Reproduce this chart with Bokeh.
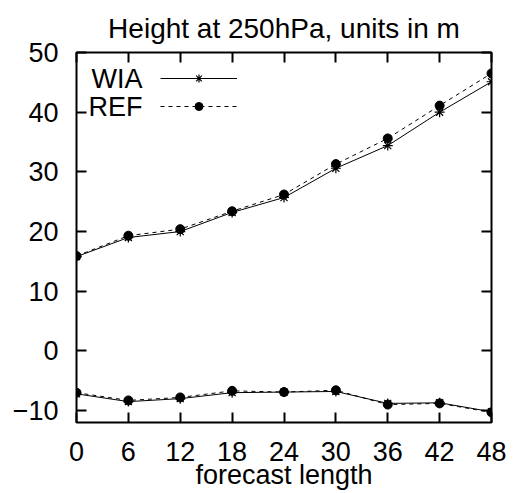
from bokeh.plotting import figure
from bokeh.models import (LinearAxis, FixedTicker, Range1d, Legend, LegendItem,
                          Label, BoxAnnotation)
from bokeh.embed import file_html
from bokeh.resources import INLINE

# ---- data ----
lead = [0, 6, 12, 18, 24, 30, 36, 42, 48]
wia_upper = [15.8, 19.0, 20.0, 23.2, 25.7, 30.6, 34.4, 40.0, 45.1]
ref_upper = [15.9, 19.3, 20.4, 23.4, 26.2, 31.3, 35.6, 41.1, 46.5]
wia_lower = [-7.2, -8.5, -8.0, -7.0, -6.9, -6.8, -8.8, -8.7, -10.2]
ref_lower = [-7.0, -8.3, -7.8, -6.7, -6.9, -6.6, -9.0, -8.8, -10.3]

x_ticks = [0, 6, 12, 18, 24, 30, 36, 42, 48]
y_ticks = [-10, 0, 10, 20, 30, 40, 50]
y_tick_labels = ["\u221210", "0", "10", "20", "30", "40", "50"]
series_names = ["WIA", "REF"]
title_text = "Height at 250hPa, units in m"
x_label = "forecast length"

FONT = "Liberation Sans"
FS = "27px"

p = figure(width=508, height=493, output_backend="svg", toolbar_location=None,
           x_range=Range1d(0, 48), y_range=Range1d(-12, 50),
           x_axis_type=None, y_axis_type=None,
           min_border_left=76, min_border_right=17,
           min_border_top=52, min_border_bottom=71)
p.background_fill_color = "white"
p.border_fill_color = "white"
p.outline_line_color = "black"
p.outline_line_width = 2

p.title.text = title_text
p.title.align = "center"
p.title.vertical_align = "top"
p.title.standoff = 14
p.title.text_font = FONT
p.title.text_font_size = "28px"
p.title.text_font_style = "normal"
p.title.text_color = "black"

def style_axis(ax, show_labels):
    ax.axis_line_color = None
    ax.major_tick_in = 10
    ax.major_tick_out = 0
    ax.major_tick_line_width = 2
    ax.major_tick_line_color = "black"
    ax.minor_tick_line_color = None
    ax.major_label_text_font = FONT
    ax.major_label_text_color = "black"
    ax.major_label_text_font_size = FS
    if not show_labels:
        ax.major_label_overrides = {t: "" for t in ax.ticker.ticks}
        ax.major_label_standoff = 0

xb = LinearAxis(ticker=FixedTicker(ticks=x_ticks))
style_axis(xb, True)
xb.major_label_standoff = 19
xb.axis_label = x_label
xb.axis_label_text_font = FONT
xb.axis_label_text_font_size = FS
xb.axis_label_text_font_style = "normal"
xb.axis_label_text_color = "black"
xb.axis_label_standoff = -4
p.add_layout(xb, "below")

yl = LinearAxis(ticker=FixedTicker(ticks=y_ticks))
style_axis(yl, True)
yl.major_label_standoff = 18
yl.major_label_overrides = {t: s for t, s in zip(y_ticks, y_tick_labels)}
p.add_layout(yl, "left")

xt = LinearAxis(ticker=FixedTicker(ticks=x_ticks))
style_axis(xt, False)
p.add_layout(xt, "above")

yr = LinearAxis(ticker=FixedTicker(ticks=y_ticks))
style_axis(yr, False)
p.add_layout(yr, "right")

p.xgrid.ticker = FixedTicker(ticks=x_ticks)
p.ygrid.ticker = FixedTicker(ticks=y_ticks)
for g in (p.xgrid, p.ygrid):
    g.grid_line_color = "black"
    g.grid_line_dash = "2 3"
    g.grid_line_width = 1
    g.grid_line_alpha = 0.85

# ---- series ----
w_l1 = p.line(lead, wia_upper, line_color="black", line_width=1)
w_s1 = p.scatter(lead, wia_upper, marker="asterisk", size=10, line_color="black", line_width=1.2)
p.line(lead, wia_lower, line_color="black", line_width=1)
p.scatter(lead, wia_lower, marker="asterisk", size=10, line_color="black", line_width=1.2)

r_l1 = p.line(lead, ref_upper, line_color="black", line_width=1, line_dash="4 4")
r_s1 = p.scatter(lead, ref_upper, marker="circle", size=9, fill_color="black", line_color="black")
p.line(lead, ref_lower, line_color="black", line_width=1, line_dash="4 4")
p.scatter(lead, ref_lower, marker="circle", size=9, fill_color="black", line_color="black")

# blank the grid behind the key, as the original does
p.add_layout(BoxAnnotation(left=1.6, right=20.0, top=47.7, bottom=38.3,
                           fill_color="white", fill_alpha=1.0, line_color=None))

legend = Legend(items=[LegendItem(label=" ", renderers=[w_l1, w_s1]),
                       LegendItem(label=" ", renderers=[r_l1, r_s1])],
                location=(84, 306), orientation="vertical",
                glyph_width=77, glyph_height=20, label_height=20,
                label_width=1, label_standoff=0, spacing=8,
                padding=0, margin=0,
                background_fill_alpha=0, border_line_color=None,
                label_text_font_size="10px")
p.add_layout(legend, "center")

for i, name in enumerate(series_names):
    p.add_layout(Label(x=0, y=50, x_offset=66, y_offset=-26 - 28 * i, text=name,
                       text_align="right", text_baseline="middle",
                       text_font=FONT, text_font_size=FS, text_color="black"))

open("out.html", "w").write(file_html(p, INLINE))
